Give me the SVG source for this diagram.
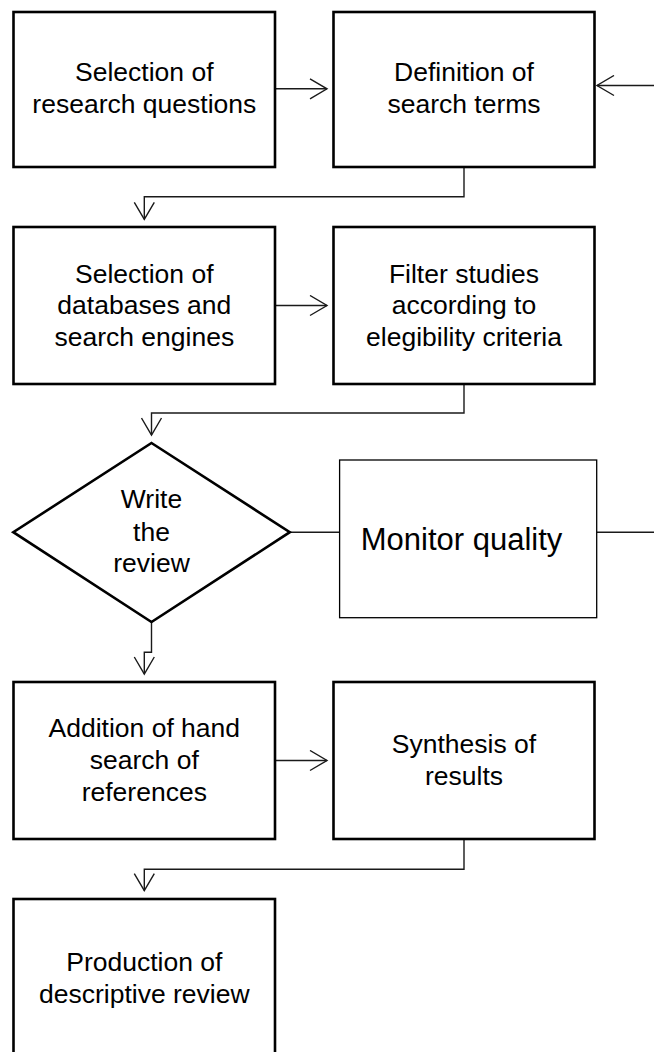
<svg xmlns="http://www.w3.org/2000/svg" width="654" height="1052" viewBox="0 0 654 1052">
<style>
.box{fill:#fff;stroke:#000;stroke-width:2.6}
.thin{fill:#fff;stroke:#000;stroke-width:1.3}
.t{font-family:"Liberation Sans",Arial,sans-serif;font-size:26.5px;fill:#000;text-anchor:middle}
.big{font-size:31px}
.c{fill:none;stroke:#1a1a1a;stroke-width:1.4}
</style>
<defs>
<marker id="ah" viewBox="0 0 20 22" refX="18" refY="11" markerWidth="20" markerHeight="22" markerUnits="userSpaceOnUse" orient="auto">
<path d="M1,1 L18,11 L1,21" fill="none" stroke="#1a1a1a" stroke-width="1.4"/>
</marker>
</defs>
<rect width="654" height="1052" fill="#fff"/>
<g id="connectors">
<path class="c" d="M275,88.8 H327" marker-end="url(#ah)"/>
<path class="c" d="M654,85.5 H597" marker-end="url(#ah)"/>
<path class="c" d="M464,167 V196.7 H144.3 V219.3" marker-end="url(#ah)"/>
<path class="c" d="M275,305.5 H327" marker-end="url(#ah)"/>
<path class="c" d="M464,384 V413 H151.5 V435" marker-end="url(#ah)"/>
<path class="c" d="M289.5,532.2 H339.6"/>
<path class="c" d="M596.7,532.2 H654"/>
<path class="c" d="M151.5,622 V652.3 H144.3 V674" marker-end="url(#ah)"/>
<path class="c" d="M275,760.5 H327" marker-end="url(#ah)"/>
<path class="c" d="M464,839 V869.3 H144.3 V890.7" marker-end="url(#ah)"/>
</g>
<g id="n1">
<rect class="box" x="13.5" y="12" width="261.5" height="155"/>
<text class="t" x="144.3" y="81">Selection of</text>
<text class="t" x="144.3" y="113">research questions</text>
</g>
<g id="n2">
<rect class="box" x="333.5" y="12" width="261" height="155"/>
<text class="t" x="464" y="81">Definition of</text>
<text class="t" x="464" y="113">search terms</text>
</g>
<g id="n3">
<rect class="box" x="13.5" y="227" width="261.5" height="157"/>
<text class="t" x="144.3" y="282.5">Selection of</text>
<text class="t" x="144.3" y="314">databases and</text>
<text class="t" x="144.3" y="345.7">search engines</text>
</g>
<g id="n4">
<rect class="box" x="333.5" y="227" width="261" height="157"/>
<text class="t" x="464" y="282.5">Filter studies</text>
<text class="t" x="464" y="314">according to</text>
<text class="t" x="464" y="345.7">elegibility criteria</text>
</g>
<g id="n5">
<polygon class="box" points="151.5,443 289.8,532.2 151.5,622 13.3,532.2"/>
<text class="t" x="151.5" y="507.5">Write</text>
<text class="t" x="151.5" y="540.5">the</text>
<text class="t" x="151.5" y="572">review</text>
</g>
<g id="n6">
<rect class="thin" x="339.6" y="460" width="257.1" height="157.7"/>
<text class="t big" x="461.5" y="550">Monitor quality</text>
</g>
<g id="n7">
<rect class="box" x="13.5" y="682" width="261.5" height="157"/>
<text class="t" x="144.3" y="737">Addition of hand</text>
<text class="t" x="144.3" y="768.5">search of</text>
<text class="t" x="144.3" y="800.5">references</text>
</g>
<g id="n8">
<rect class="box" x="333.5" y="682" width="261" height="157"/>
<text class="t" x="464" y="752.5">Synthesis of</text>
<text class="t" x="464" y="784.5">results</text>
</g>
<g id="n9">
<rect class="box" x="13.5" y="899" width="261.5" height="157"/>
<text class="t" x="144.3" y="970.5">Production of</text>
<text class="t" x="144.3" y="1002.5">descriptive review</text>
</g>
</svg>
